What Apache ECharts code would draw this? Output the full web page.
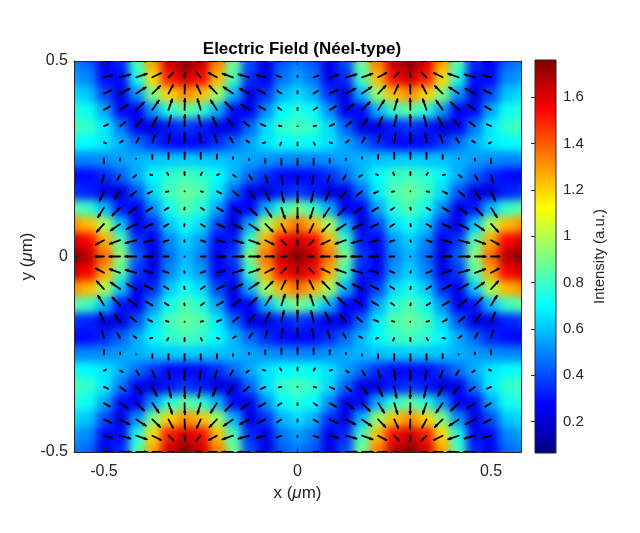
<!DOCTYPE html>
<html lang="en">
<head>
    <meta charset="utf-8"/>
    <title>Electric Field (Néel-type)</title>
    <script src="https://cdn.jsdelivr.net/npm/echarts@6/dist/echarts.min.js"></script>
    <style>
        html, body { margin: 0; padding: 0; background: #fff; }
        #wrap { position: relative; width: 640px; height: 533px; }
        /* the intensity map sits under the axes, softened so the cells blend like shading interp */
        #heatClip { position: absolute; left: 74px; top: 61px; width: 447px; height: 391px; overflow: hidden; }
        #heat { position: absolute; left: -74px; top: -61px; width: 640px; height: 533px; filter: blur(4.5px); }
        #main { position: absolute; left: 0; top: 0; width: 640px; height: 533px; }
    </style>
</head>
<body>
<div id="wrap">
    <div id="heatClip"><div id="heat"></div></div>
    <div id="main"></div>
</div>
<script type="text/javascript">
    // sample points of one quadrant (x >= 0, y >= 0), in um; the plot is mirror symmetric
    var gridX = [0, 0.0417, 0.0833, 0.125, 0.1667, 0.2083, 0.25, 0.2917, 0.3333, 0.375, 0.4167, 0.4583, 0.5, 0.5417, 0.5833];
    var gridY = [0, 0.0417, 0.0833, 0.125, 0.1667, 0.2083, 0.25, 0.2917, 0.3333, 0.375, 0.4167, 0.4583, 0.5];

    // intensity (a.u.), one row per gridY value, one column per gridX value
    var intensity = [
        [1.75, 1.64, 1.36, 0.90, 0.37, 0.24, 0.49, 0.58, 0.46, 0.21, 0.43, 0.93, 1.37, 1.66, 1.75],
        [1.64, 1.54, 1.26, 0.80, 0.32, 0.28, 0.53, 0.62, 0.50, 0.24, 0.37, 0.84, 1.27, 1.55, 1.63],
        [1.36, 1.26, 0.98, 0.57, 0.21, 0.39, 0.64, 0.72, 0.61, 0.35, 0.24, 0.61, 0.99, 1.24, 1.31],
        [0.90, 0.80, 0.57, 0.27, 0.27, 0.55, 0.76, 0.83, 0.73, 0.51, 0.24, 0.31, 0.59, 0.79, 0.85],
        [0.37, 0.32, 0.21, 0.24, 0.45, 0.67, 0.83, 0.87, 0.81, 0.64, 0.42, 0.22, 0.22, 0.33, 0.36],
        [0.28, 0.29, 0.35, 0.45, 0.58, 0.70, 0.78, 0.81, 0.77, 0.69, 0.56, 0.44, 0.34, 0.29, 0.28],
        [0.50, 0.50, 0.52, 0.55, 0.58, 0.60, 0.61, 0.62, 0.61, 0.60, 0.57, 0.54, 0.51, 0.50, 0.50],
        [0.72, 0.70, 0.65, 0.55, 0.45, 0.35, 0.29, 0.28, 0.29, 0.36, 0.46, 0.57, 0.66, 0.70, 0.72],
        [0.82, 0.78, 0.64, 0.44, 0.23, 0.22, 0.32, 0.36, 0.31, 0.20, 0.25, 0.47, 0.67, 0.78, 0.82],
        [0.76, 0.70, 0.51, 0.25, 0.29, 0.57, 0.78, 0.85, 0.76, 0.53, 0.26, 0.29, 0.55, 0.72, 0.76],
        [0.64, 0.57, 0.36, 0.22, 0.58, 0.96, 1.23, 1.31, 1.20, 0.91, 0.52, 0.21, 0.40, 0.60, 0.64],
        [0.54, 0.47, 0.25, 0.35, 0.81, 1.24, 1.54, 1.63, 1.51, 1.19, 0.74, 0.29, 0.29, 0.50, 0.54],
        [0.48, 0.42, 0.22, 0.40, 0.89, 1.34, 1.65, 1.75, 1.62, 1.28, 0.82, 0.34, 0.25, 0.44, 0.48]
    ];

    // in-plane field arrows on the first 13 x 13 points of the quadrant
    var fieldU = [
        [0, -0.76, -1.36, -1.69, -1.68, -1.33, -0.71, 0.06, 0.81, 1.40, 1.70, 1.67, 1.29],
        [0, -0.73, -1.32, -1.64, -1.62, -1.28, -0.68, 0.05, 0.78, 1.35, 1.65, 1.61, 1.25],
        [0, -0.66, -1.18, -1.47, -1.46, -1.15, -0.61, 0.05, 0.70, 1.21, 1.48, 1.44, 1.12],
        [0, -0.54, -0.96, -1.20, -1.19, -0.94, -0.50, 0.04, 0.57, 0.99, 1.21, 1.18, 0.91],
        [0, -0.38, -0.68, -0.85, -0.84, -0.66, -0.35, 0.03, 0.40, 0.70, 0.85, 0.83, 0.65],
        [0, -0.20, -0.35, -0.44, -0.44, -0.34, -0.18, 0.01, 0.21, 0.36, 0.44, 0.43, 0.33],
        [0, 0, 0, 0, 0, 0, 0, 0, 0, 0, 0, 0, 0],
        [0, 0.20, 0.35, 0.44, 0.44, 0.34, 0.18, -0.01, -0.21, -0.36, -0.44, -0.43, -0.33],
        [0, 0.38, 0.68, 0.85, 0.84, 0.66, 0.35, -0.03, -0.40, -0.70, -0.85, -0.83, -0.65],
        [0, 0.54, 0.96, 1.20, 1.19, 0.94, 0.50, -0.04, -0.57, -0.99, -1.21, -1.18, -0.91],
        [0, 0.66, 1.18, 1.47, 1.46, 1.15, 0.61, -0.05, -0.70, -1.21, -1.48, -1.44, -1.12],
        [0, 0.73, 1.32, 1.64, 1.62, 1.28, 0.68, -0.05, -0.78, -1.35, -1.65, -1.61, -1.25],
        [0, 0.76, 1.36, 1.69, 1.68, 1.33, 0.71, -0.06, -0.81, -1.40, -1.70, -1.67, -1.29]
    ];
    var fieldV = [
        [0, 0, 0, 0, 0, 0, 0, 0, 0, 0, 0, 0, 0],
        [-0.76, -0.73, -0.66, -0.55, -0.44, -0.33, -0.26, -0.24, -0.27, -0.35, -0.45, -0.57, -0.67],
        [-1.37, -1.32, -1.17, -0.97, -0.75, -0.55, -0.41, -0.37, -0.42, -0.57, -0.78, -1.00, -1.20],
        [-1.71, -1.64, -1.44, -1.15, -0.83, -0.55, -0.35, -0.29, -0.37, -0.58, -0.87, -1.19, -1.47],
        [-1.73, -1.64, -1.40, -1.05, -0.66, -0.31, -0.08, 0, -0.10, -0.35, -0.71, -1.10, -1.44],
        [-1.47, -1.37, -1.10, -0.70, -0.27, 0.12, 0.38, 0.47, 0.35, 0.07, -0.33, -0.76, -1.14],
        [-1.00, -0.90, -0.62, -0.21, 0.24, 0.64, 0.91, 1.00, 0.88, 0.59, 0.18, -0.27, -0.67],
        [-0.47, -0.37, -0.10, 0.30, 0.73, 1.12, 1.38, 1.47, 1.35, 1.07, 0.67, 0.24, -0.14],
        [0, 0.09, 0.33, 0.69, 1.07, 1.42, 1.66, 1.73, 1.63, 1.38, 1.02, 0.63, 0.29],
        [0.29, 0.36, 0.56, 0.85, 1.17, 1.45, 1.65, 1.71, 1.63, 1.42, 1.13, 0.81, 0.53],
        [0.37, 0.42, 0.56, 0.76, 0.99, 1.19, 1.32, 1.37, 1.31, 1.16, 0.95, 0.73, 0.53],
        [0.24, 0.27, 0.34, 0.45, 0.56, 0.67, 0.74, 0.76, 0.73, 0.65, 0.55, 0.43, 0.33],
        [0, 0, 0, 0, 0, 0, 0, 0, 0, 0, 0, 0, 0]
    ];

    var xTicks = [-0.5, 0, 0.5];
    var yTicks = [-0.5, 0, 0.5];
    var barTicks = [0.2, 0.4, 0.6, 0.8, 1, 1.2, 1.4, 1.6];
    var xEdge = 0.5774;
    var colorMin = 0.065, colorMax = 1.76;

    var jet = ['#000080', '#0000ff', '#0080ff', '#00ffff', '#80ff80', '#ffff00', '#ff8000', '#ff0000', '#800000'];
    var font = 'Liberation Sans, Arial, Helvetica, sans-serif';
    var axisColor = '#262626';
    var half = 1 / 48;          // half a sample cell
    var arrowScale = 0.0168;    // um of arrow per unit of field

    // mirror the quadrant into the four quadrants
    var heatData = [];
    var arrowData = [];
    for (var j = 0; j < gridY.length; j++) {
        for (var i = 0; i < gridX.length; i++) {
            var sxs = gridX[i] === 0 ? [1] : [1, -1];
            var sys = gridY[j] === 0 ? [1] : [1, -1];
            for (var a = 0; a < sxs.length; a++) {
                for (var b = 0; b < sys.length; b++) {
                    var sx = sxs[a], sy = sys[b];
                    heatData.push([sx * gridX[i], sy * gridY[j], intensity[j][i]]);
                    if (i < fieldU[j].length) {
                        arrowData.push([sx * gridX[i], sy * gridY[j], sx * fieldU[j][i], sy * fieldV[j][i]]);
                    }
                }
            }
        }
    }

    function renderCell(params, api) {
        var x = api.value(0), y = api.value(1);
        var p0 = api.coord([x - half, y + half]);
        var p1 = api.coord([x + half, y - half]);
        var x0 = p0[0] - 0.6, y0 = p0[1] - 0.6, x1 = p1[0] + 0.6, y1 = p1[1] + 0.6;
        // outer cells are stretched past the frame so the blur does not fade at the border
        if (x + half >= xEdge) x1 += 30;
        if (x - half <= -xEdge) x0 -= 30;
        if (y + half >= 0.5) y0 -= 30;
        if (y - half <= -0.5) y1 += 30;
        return {
            type: 'rect',
            shape: {x: x0, y: y0, width: x1 - x0, height: y1 - y0},
            style: {fill: api.visual('color')}
        };
    }

    function renderArrow(params, api) {
        var x = api.value(0), y = api.value(1), u = api.value(2), v = api.value(3);
        var p0 = api.coord([x, y]);
        var p1 = api.coord([x + u * arrowScale, y + v * arrowScale]);
        var dx = p1[0] - p0[0], dy = p1[1] - p0[1];
        var len = Math.sqrt(dx * dx + dy * dy);
        if (len < 1.2) {
            return {type: 'circle', shape: {cx: p0[0], cy: p0[1], r: 0.9}, style: {fill: '#000'}};
        }
        var ux = dx / len, uy = dy / len, h = len * 0.25, w = len * 0.11;
        return {
            type: 'group',
            children: [
                {type: 'line', shape: {x1: p0[0], y1: p0[1], x2: p1[0], y2: p1[1]},
                    style: {stroke: '#000', lineWidth: 1.8, lineCap: 'round'}},
                {type: 'polygon', shape: {points: [
                    [p1[0] - ux * h - uy * w, p1[1] - uy * h + ux * w],
                    [p1[0], p1[1]],
                    [p1[0] - ux * h + uy * w, p1[1] - uy * h - ux * w]]},
                    style: {stroke: '#000', fill: '#000', lineWidth: 0.8}}
            ]
        };
    }

    var heatChart = echarts.init(document.getElementById('heat'));
    heatChart.setOption({
        animation: false,
        grid: {left: 74, top: 61, width: 447, height: 391},
        xAxis: {type: 'value', min: -xEdge, max: xEdge, show: false},
        yAxis: {type: 'value', min: -0.5, max: 0.5, show: false},
        visualMap: {show: false, type: 'continuous', min: colorMin, max: colorMax, dimension: 2,
            inRange: {color: jet}},
        series: [{type: 'custom', renderItem: renderCell, data: heatData}]
    });

    var jetStops = jet.map(function (c, k) { return {offset: k / (jet.length - 1), color: c}; });

    var tickLabel = {fontFamily: font, fontSize: 16, color: axisColor};
    var frameLine = {onZero: false, lineStyle: {color: axisColor, width: 1}};

    var chart = echarts.init(document.getElementById('main'));
    var option = {
        animation: false,
        title: {
            text: 'Electric Field (Néel-type)',
            left: 297, top: 36, textAlign: 'center',
            textStyle: {fontFamily: font, fontSize: 17, fontWeight: 'bold', color: '#000'}
        },
        grid: [
            {left: 74, top: 61, width: 447, height: 391},
            {left: 535, top: 60, width: 21, height: 393}
        ],
        xAxis: [
            {
                gridIndex: 0, type: 'value', min: -xEdge, max: xEdge,
                name: 'x ({mu|μ}m)', nameLocation: 'middle', nameGap: 33, nameMoveOverlap: false,
                nameTextStyle: {fontFamily: font, fontSize: 17, color: axisColor,
                    rich: {mu: {fontFamily: font, fontSize: 17, fontStyle: 'italic', color: axisColor}}},
                axisLine: frameLine,
                axisTick: {inside: true, length: 5, customValues: xTicks, lineStyle: {color: axisColor}},
                axisLabel: Object.assign({customValues: xTicks, margin: 12}, tickLabel),
                splitLine: {show: false}
            },
            {
                gridIndex: 0, type: 'value', position: 'top', min: -xEdge, max: xEdge,
                axisLine: frameLine,
                axisTick: {inside: true, length: 5, customValues: xTicks, lineStyle: {color: axisColor}},
                axisLabel: {show: false},
                splitLine: {show: false}
            },
            {gridIndex: 1, type: 'value', min: 0, max: 1, show: false}
        ],
        yAxis: [
            {
                gridIndex: 0, type: 'value', min: -0.5, max: 0.5,
                name: 'y ({mu|μ}m)', nameLocation: 'middle', nameGap: 38, nameMoveOverlap: false,
                nameTextStyle: {fontFamily: font, fontSize: 17, color: axisColor,
                    rich: {mu: {fontFamily: font, fontSize: 17, fontStyle: 'italic', color: axisColor}}},
                axisLine: frameLine,
                axisTick: {inside: true, length: 5, customValues: yTicks, lineStyle: {color: axisColor}},
                axisLabel: Object.assign({customValues: yTicks, margin: 6}, tickLabel),
                splitLine: {show: false}
            },
            {
                gridIndex: 0, type: 'value', position: 'right', min: -0.5, max: 0.5,
                axisLine: Object.assign({show: true}, frameLine),
                axisTick: {inside: true, length: 5, customValues: yTicks, lineStyle: {color: axisColor}},
                axisLabel: {show: false},
                splitLine: {show: false}
            },
            {
                gridIndex: 1, type: 'value', position: 'right', min: colorMin, max: colorMax,
                name: 'Intensity (a.u.)', nameLocation: 'middle', nameRotate: 90, nameGap: 36,
                nameMoveOverlap: false,
                nameTextStyle: {fontFamily: font, fontSize: 15, color: axisColor},
                axisLine: {show: false},
                axisTick: {show: true, inside: true, length: 4, customValues: barTicks, lineStyle: {color: axisColor}},
                axisLabel: Object.assign({customValues: barTicks, margin: 7}, tickLabel, {fontSize: 15}),
                splitLine: {show: false}
            }
        ],
        series: [
            {
                type: 'custom', xAxisIndex: 0, yAxisIndex: 0, clip: true,
                renderItem: renderArrow, data: arrowData, z: 5
            },
            {
                type: 'custom', xAxisIndex: 2, yAxisIndex: 2,
                data: [[0, colorMin, 1, colorMax]],
                renderItem: function (params, api) {
                    var p0 = api.coord([api.value(0), api.value(3)]);
                    var p1 = api.coord([api.value(2), api.value(1)]);
                    return {
                        type: 'rect',
                        shape: {x: p0[0], y: p0[1], width: p1[0] - p0[0], height: p1[1] - p0[1]},
                        style: {fill: new echarts.graphic.LinearGradient(0, 1, 0, 0, jetStops),
                            stroke: axisColor, lineWidth: 1}
                    };
                }
            }
        ]
    };
    chart.setOption(option);
</script>
</body>
</html>
